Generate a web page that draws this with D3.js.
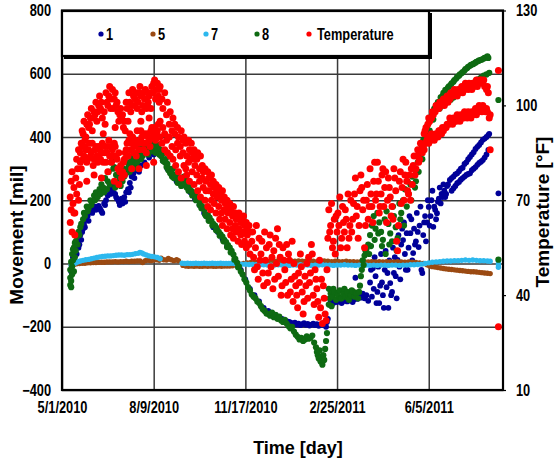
<!DOCTYPE html>
<html>
<head>
<meta charset="utf-8">
<script src="https://cdn.jsdelivr.net/npm/d3@7"></script>
<style>
  html, body { margin: 0; padding: 0; background: #fff; }
  svg text { font-family: "Liberation Sans", Arial, sans-serif; font-weight: bold; fill: #000; }
</style>
</head>
<body>
<svg id="chart" width="555" height="461"></svg>
<script>
// ---- axis definitions ----
const startDate = "2010-05-01";
const endDate = "2011-08-25";
const xTickLabels = ["5/1/2010", "8/9/2010", "11/17/2010", "2/25/2011", "6/5/2011"];
const movementTicks = [-400, -200, 0, 200, 400, 600, 800];
const temperatureTicks = [10, 40, 70, 100, 130];

// ---- legend ----
const seriesNames = ["1", "5", "7", "8", "Temperature"];
const seriesColors = ["#000099", "#9b4a12", "#2cb8ee", "#0e6a12", "#ff0000"];

// ---- readings: [days since 5/1/2010, value] ----
// sensor 1, movement in mil
const sensor1 = [
  [10,-25],[11,0],[12,20],[13,10],[14,40],[15,55],[16,30],[17,70],[18,50],[19,60],[20,90],[21,75],[22,100],[23,110],[24,125],[25,115],[26,140],[28,150],[29,135],[30,165],[32,170],[33,160],[34,175],[36,180],[37,170],[38,178],[40,182],[41,175],[42,170],[43,165],[44,160],[46,190],[47,185],[48,200],[50,215],[52,230],[53,220],[54,240],[55,245],[56,225],[58,220],[59,210],[60,205],[62,195],[63,185],[64,200],[65,205],[66,190],[68,210],[69,195],[70,225],[72,235],[73,225],[74,255],[75,240],[76,275],[78,285],[79,270],[80,295],[82,300],[84,290],[86,310],
  [90,320],[95,335],[100,345],[105,350],[110,325],[115,300],[120,280],[125,260],[130,250],[135,245],[140,225],[145,205],[150,185],[155,160],[160,140],[165,115],[170,100],[175,78],[180,55],[185,35],[190,5],[195,-20],[200,-50],[205,-80],[210,-100],[215,-120],[220,-140],[225,-150],[230,-160],[235,-170],[240,-175],[245,-182],
  [248,-185],[250,-188],[252,-190],[254,-187],[256,-193],[258,-190],[260,-195],[262,-192],[264,-189],[266,-194],[268,-191],[270,-196],[272,-193],[274,-190],[276,-195],[278,-192],[280,-197],[282,-194],[284,-190],[286,-195],[288,-200],[289,-185],[290,-175],
  [292,-130],[293,-118],[294,-120],[296,-125],[298,-118],[300,-122],[302,-112],[303,-115],[305,-125],[306,-120],[308,-108],[309,-112],[311,-120],[312,-118],[314,-105],[315,-110],[317,-122],[318,-115],[320,-105],[320,-45],[322,-112],[324,-100],[326,-108],[328,-95],[330,-110],[332,-100],[334,-118],
  [336,-60],[337,-20],[338,-105],[339,-15],[340,-80],[341,20],[342,-40],[343,-125],[344,-90],[345,-10],[346,-125],[347,-70],[348,30],[349,-60],[350,-100],[351,-140],[352,-20],[353,40],[354,-75],[355,-30],[356,-140],[357,10],[358,-62],[359,-100],[360,-90],[361,50],[362,-30],[363,20],[364,-40],[365,-110],[366,11],[367,90],[368,-10],[369,-50],[370,60],[371,110],[372,74],[373,130],[374,30],[375,-20],[376,96],[377,-20],[378,50],[379,150],[380,96],[381,140],[382,10],[383,33],[384,110],[385,60],[386,70],[387,160],[388,100],[389,52],[390,120],[391,180],[392,-20],[393,-30],[394,90],[395,130],[396,150],[397,70],[398,130],[399,200],[400,179],[401,120],[402,150],[403,200],[404,230],[405,116],[406,180],[407,170],[408,140],[409,159],[410,195],[411,205],[412,240],[413,190],[414,220],[415,210],[416,250],[417,230],[418,210],[419,220],[420,245],
  [421,250],[423,264],[425,270],[427,275],[429,282],[431,285],[433,292],[435,300],[437,303],[439,315],[441,320],[443,330],[445,337],[447,345],[449,352],[451,362],[453,369],[455,375],[457,383],[459,391],[461,395],[463,400],[465,406],[466,410],
  [425,230],[427,238],[429,245],[431,254],[433,258],[435,265],[437,270],[439,275],[441,280],[443,283],[445,285],[447,295],[449,300],[451,305],[453,312],[455,318],[457,322],[459,327],[461,335],[463,345],[465,359],
  [476,222]
];

// sensor 5, movement in mil
const sensor5 = [
  [10,-5],[13,-3],[16,-1],[19,0],[22,1],[25,1],[28,2],[31,2],[34,3],[37,3],[40,4],[43,4],[46,4],[49,5],[52,5],[55,5],[58,6],[61,5],[64,6],[67,6],[70,7],[73,6],[76,7],[79,7],[82,8],[85,8],[88,3],[91,9],[94,10],[97,9],[100,11],[103,12],[106,10],[108,17],[111,12],[114,11],[116,16],[119,12],[122,9],[125,12],[127,9],
  [132,-6],[135,-8],[138,-9],[141,-8],[144,-9],[147,-8],[150,-9],[153,-9],[156,-8],[159,-9],[162,-8],[165,-9],[168,-9],[171,-8],[174,-9],[177,-8],[180,-8],[183,-8],[186,-7],
  [190,-5],[194,-2],[198,0],[202,2],[206,3],[210,4],[214,5],[218,5],[222,6],[226,6],[230,7],[234,7],[238,6],[242,7],[246,8],[250,7],[254,7],[258,8],[262,7],[266,7],[270,8],[274,7],[278,6],[282,7],[286,8],[290,7],[294,6],[298,7],[302,6],[306,6],[310,7],[314,6],[318,6],[322,5],[326,6],[330,6],[334,5],[338,6],[342,5],[346,6],[350,5],[354,6],[358,5],[362,5],[366,6],[370,5],[374,4],[378,5],[382,4],[386,3],[390,2],[394,0],[398,-4],[401,-8],[404,-10],[407,-11],[410,-13],[413,-14],[416,-16],[419,-17],[422,-18],[425,-19],[428,-20],[431,-21],[434,-22],[437,-23],[440,-24],[443,-25],[446,-26],[449,-26],[452,-27],[455,-28],[458,-29],[461,-30],[464,-31],[467,-32]
];

// sensor 7, movement in mil
const sensor7 = [
  [10,-6],[12,-2],[14,1],[16,4],[18,6],[20,8],[23,10],[26,12],[29,13],[32,15],[35,17],[38,19],[41,21],[44,22],[47,23],[50,24],[53,24],[56,25],[59,26],[62,27],[65,27],[68,26],[71,28],[74,28],[77,29],[80,31],[83,32],[85,35],[87,33],[89,30],[92,27],[95,24],[98,22],[101,21],[104,19],[107,15],
  [131,1],[134,0],[137,1],[140,0],[143,0],[146,1],[149,0],[152,0],[155,1],[158,0],[161,0],[164,1],[167,0],[170,0],[173,1],[176,0],[179,0],[182,0],[185,1],[188,0],
  [192,-1],[196,-2],[200,-2],[204,-3],[208,-3],[212,-4],[216,-4],[220,-4],[224,-5],[228,-5],[232,-5],[236,-4],[240,-5],[244,-5],[248,-6],[252,-5],[256,-5],[260,-4],[264,-5],[268,-5],[272,-6],[276,-5],[280,-5],[284,-4],[288,-5],[292,-5],[296,-6],[300,-5],[304,-5],[308,-4],[312,-5],[316,-5],[320,-6],[324,-5],[328,-5],[332,-5],[336,-6],[340,-5],[344,-6],[348,-5],[352,-5],[356,-6],[360,-5],[364,-5],[368,-6],[372,-5],[376,-5],[380,-4],[384,-4],[388,-3],[392,-2],[396,0],[400,2],[404,4],[408,5],[412,6],[416,7],[420,8],[424,8],[428,9],[432,9],[436,10],[440,11],[444,10],[448,11],[452,10],[456,9],[460,9],[464,8],[467,7],
  [476,8],[476,-2],[476,-12]
];

// sensor 8, movement in mil
const sensor8 = [
  [9,-68],[9,-45],[9,-20],[10,5],[10,-75],[10,-55],[11,30],[11,-35],[11,-10],[12,10],[12,45],[13,50],[13,-25],[14,20],[14,65],[15,40],[15,70],[16,85],[17,60],[18,100],[19,90],[20,115],
  [21,125],[23,140],[24,160],[25,150],[27,180],[28,165],[29,175],[31,200],[32,185],[33,195],[35,215],[36,200],[37,225],[39,210],[41,235],[42,220],[43,250],[45,240],[46,225],[47,270],[49,235],[50,260],[51,290],[52,250],[53,320],[55,330],[56,300],[57,305],[59,280],[60,255],[61,250],[63,265],[64,245],[65,290],[67,300],[68,275],[69,295],[71,320],[72,300],[73,310],[75,335],[76,320],[77,340],[79,325],[80,310],[81,345],[83,350],[84,330],[85,340],[87,355],[88,340],[89,350],[91,365],[92,350],[93,360],[95,375],[96,355],[97,370],[99,385],[100,360],[101,380],[103,370],[104,355],[105,375],[107,360],
  [58,240],[62,275],[66,260],[70,285],[74,290],[78,300],[82,320],[85,370],[86,330],[90,380],[94,345],[95,390],[98,355],[102,350],[106,345],
  [108,340],[109,345],[110,325],[111,350],[112,320],[113,330],[114,305],[115,315],[116,295],[117,300],[118,285],[119,290],[120,275],[121,300],[122,270],[123,280],[125,275],[126,255],[127,265],[129,260],[130,245],[131,270],[133,275],[134,255],[135,265],[136,240],[137,250],[138,230],[139,240],[141,230],[142,215],[143,225],[145,215],[146,200],[147,210],[149,200],[150,185],[151,190],[152,175],[153,180],[155,170],[156,155],[157,150],[159,155],[160,135],[161,145],[163,135],[164,120],[165,125],[167,120],[168,105],[169,112],[171,100],[172,88],[173,92],[175,85],[176,70],[177,75],[179,68],[180,52],[181,58],[183,50],[184,35],[185,40],[187,28],[188,12],[189,15],[191,2],[192,-12],[193,-10],[195,-25],[197,-35],[199,-50],[201,-60],[203,-75],[205,-85],[207,-98],[209,-105],[211,-110],[213,-120],[215,-125],[217,-135],[219,-145],[221,-150],[223,-158],[225,-160],[227,-165],[229,-155],[231,-170],[233,-162],[235,-175],[237,-168],[239,-180],[241,-185],[243,-178],[245,-190],[247,-198],[249,-205],[251,-200],[253,-215],[255,-225],[257,-232],[259,-240],[261,-235],[263,-245],[265,-240],[267,-230],[269,-238],[271,-235],[273,-228],[275,-250],[277,-265],[278,-280],[279,-290],[280,-300],[281,-275],[282,-310],[283,-295],[284,-320],[285,-290],[286,-305],[287,-270],[288,-245],[289,-220],
  [291,-80],[291,-130],[292,-110],[293,-95],[294,-135],[295,-105],[296,-80],[297,-90],[299,-115],[300,-95],[301,-100],[303,-85],[304,-110],[305,-110],[307,-95],[308,-80],[309,-105],[311,-90],[312,-110],[313,-115],[315,-100],[316,-85],[317,-88],[319,-105],[320,-92],[321,-95],[323,-110],[324,-90],[325,-70],[326,-40],[327,-20],[328,10],[329,-5],[330,25],[331,40],[332,45],[334,60],[335,30],[336,90],[337,55],[338,120],[340,150],[341,75],[342,110],[344,160],[345,95],[346,130],[348,100],[349,55],[350,75],[352,140],[353,30],[354,165],[356,125],[357,60],[358,95],[360,70],[361,180],[362,150],[364,115],[365,40],[366,80],[368,190],[369,140],[370,160],[372,200],[373,120],[374,235],[376,180],[377,260],[378,220],[380,250],[381,200],[382,275],[384,300],[385,240],[386,260],[388,320],[389,290],[390,340],[392,365],[393,330],[394,390],[396,410],[397,380],[398,430],[400,445],[401,420],[402,460],[404,475],[405,455],[406,490],[408,500],
  [410,510],[412,505],[413,525],[415,530],[416,540],[418,548],[419,550],[421,556],[422,560],[424,565],[425,570],[427,575],[428,580],[430,585],[431,590],[433,594],[434,598],[436,602],[437,605],[439,610],[440,615],[442,618],[443,622],[445,625],[446,628],[448,630],[449,632],[451,635],[452,638],[454,640],[455,642],[457,644],[458,645],[460,648],[461,650],[463,652],[464,655],[465,650],
  [412,490],[415,500],[418,505],[421,512],[424,518],[427,525],[430,532],[433,538],[436,545],[439,552],[442,558],[445,565],[448,570],[451,576],[454,582],[457,588],[460,594],[463,598],[466,603],
  [476,517],[476,12]
];

// air temperature, degrees F
const temperature = [
  [9,63],[9,71],[10,67],[10,76],[11,60],[11,79],[12,69],[13,74],[13,66],[14,59],[14,66],[15,77],[16,72],[16,83],[17,80],[18,86],[18,70],[19,75],[20,82],
  [21,88],[23,91],[25,89],[27,94],[29,93],[31,96],[33,92],[35,98],[36,97],[38,95],[40,100],[42,99],[44,96],[47,94],[49,101],[51,103],[53,99],[55,105],[57,102],[59,100],[61,98],[63,97],[65,96],[67,93],[69,92],[71,99],[74,101],[76,100],[78,103],[80,102],[82,99],[84,104],[86,103],[88,100],[90,102],[92,99],[94,101],[96,104],[98,106],[100,107],[101,108],[103,105],[105,103],[106,105],
  [22,92],[24,95],[26,90],[28,97],[30,94],[32,99],[34,96],[37,101],[39,98],[41,103],[43,101],[46,98],[48,104],[50,100],[52,106],[54,102],[56,99],[58,104],[60,101],[62,95],[64,99],[66,97],[68,95],[70,101],[73,104],[75,98],[77,105],[79,100],[81,104],[83,101],[85,106],[87,98],[89,104],[91,105],[93,100],[95,103],[97,99],[99,104],[102,102],[104,107],[106,101],
  [20,85],[22,87],[24,84],[26,86],[28,83],[30,88],[32,85],[34,81],[36,86],[38,84],[40,87],[42,83],[44,88],[46,85],[48,82],[50,87],[52,84],[55,86],[57,88],[59,84],[61,80],[63,79],[65,77],[67,82],[69,85],[71,88],[73,89],[75,86],[77,90],[79,87],[81,84],[83,88],[85,89],[87,90],[89,86],[91,88],[93,91],[95,89],[97,92],[99,90],[101,93],[103,91],[105,94],
  [21,80],[23,83],[25,87],[27,82],[29,86],[31,84],[33,88],[35,83],[37,87],[39,82],[41,86],[43,85],[45,82],[47,87],[49,85],[51,89],[53,87],[54,82],[56,84],[58,87],[60,83],[62,85],[64,81],[66,79],[68,83],[70,86],[72,84],[74,91],[76,88],[78,85],[80,89],[82,92],[84,86],[86,92],[88,88],[90,91],[92,85],[94,90],[96,87],[98,93],[100,91],[102,89],[104,92],[106,90],
  [27,76],[35,78],[43,77],[50,79],[57,76],[62,75],[68,78],[76,80],[84,80],[92,81],[100,82],
  [45,91],[58,93],[72,95],[86,95],[95,96],
  [107,106],[107,95],[107,90],[109,102],[109,88],[110,99],[110,93],[112,104],[112,91],[112,86],[114,97],[114,89],[115,101],[115,85],[117,94],[117,90],[118,98],[118,84],[120,92],[120,87],[121,96],[121,83],[123,91],[123,94],[124,86],[124,81],[126,93],[126,88],[127,90],[127,79],[129,87],[129,84],[130,92],[130,77],[132,85],[132,89],[133,81],[133,90],[135,88],[135,80],[136,84],[136,78],[138,89],[138,82],[139,86],[139,76],[141,83],[141,88],[142,79],[142,85],[144,86],[144,75],[145,81],[145,84],[147,78],[147,83],[148,85],[148,73],[150,80],[150,76],[151,84],[151,71],[153,77],[153,81],[154,74],[154,79],[156,80],[156,70],[157,76],[157,73],[159,79],[159,68],[160,73],[160,77],[162,75],[162,67],[163,78],[163,70],[165,72],[165,76],[166,69],[166,74],[168,75],[168,66],[169,71],[169,73],[171,68],[171,74],[172,72],[172,64],[174,70],[174,66],[175,73],[175,62],[177,67],[177,71],[178,64],[178,69],[180,70],[180,61],[181,66],[181,68],[183,63],[183,69],[184,67],[184,59],[186,65],[186,61],[187,68],[187,58],[189,62],[189,66],[190,60],[190,64],[192,65],[192,57],[193,61],[193,66],[195,59],[195,63],[196,64],[196,56],[198,60],[198,65],[199,57],[199,62],[201,63],[201,55],[202,59],[202,61],[204,56],[204,62],[205,60],[205,53],
  [207,57],[209,52],[211,55],[213,49],[215,58],[217,53],[219,47],[221,60],[222,51],[224,44],[226,56],[228,49],[230,42],[231,54],[233,58],[235,61],[236,46],[238,52],[240,43],[241,55],[243,48],[245,56],[246,40],[248,51],[250,45],[252,38],[253,50],[255,43],[257,36],[258,47],[260,53],[262,41],[263,34],[265,46],[267,50],[268,39],[270,44],[272,56],[273,53],[275,37],[276,48],[278,42],[280,33],[281,51],[283,45],[284,31],[286,39],[287,34],[289,48],
  [208,60],[210,48],[212,62],[214,45],[216,51],[218,57],[220,43],[223,55],[225,47],[227,59],[229,52],[232,45],[234,50],[237,56],[239,40],[242,51],[244,44],[247,53],[249,41],[251,57],[254,46],[256,40],[259,44],[261,49],[264,38],[266,43],[269,52],[271,47],[274,40],[277,45],[279,38],[282,36],[285,43],[288,32],
  [290,58],[291,67],[293,62],[294,69],[295,55],[297,64],[298,53],[300,60],[301,66],[303,71],[305,58],[307,63],[309,67],[311,55],[312,72],[314,62],[316,60],[318,69],[320,77],[321,65],[323,58],[325,73],[327,74],[328,67],[330,55],[332,70],[334,64],[336,80],[338,68],[340,76],[341,82],
  [292,60],[296,57],[299,65],[302,62],[304,55],[306,68],[308,60],[310,64],[313,58],[315,70],[317,64],[319,72],[322,68],[324,62],[326,78],[329,70],[331,62],[333,75],[335,68],[337,72],[339,63],[342,70],[345,76],[348,72],[351,68],[353,79],[355,70],[357,74],[360,68],[363,77],[367,62],[369,79],[371,74],[373,70],[375,82],[377,73],[379,78],[382,75],[384,84],[386,80],[388,86],[390,83],[392,86],
  [343,72],[344,82],[346,66],[347,68],[349,78],[350,80],[352,74],[354,63],[356,77],[358,71],[359,65],[361,64],[362,80],[364,73],[365,57],[366,54],[368,76],[370,69],[372,83],[374,78],[376,76],[378,72],[380,70],[381,80],[383,81],[385,78],[387,84],[389,82],[391,88],[393,85],
  [395,91],[397,93],[399,94],[401,95],[403,96],[405,97],[407,98],[409,99],[411,99],[413,100],[415,101],[417,100],[419,102],[421,101],[423,102],[425,103],[427,103],[429,104],[431,103],[433,104],[435,105],[437,104],[439,105],[441,106],[443,105],[445,106],[447,105],[449,106],[451,107],[453,106],[455,107],[457,108],[459,107],[461,106],[463,105],[465,104],
  [396,92],[400,96],[404,98],[408,100],[412,101],[416,102],[420,103],[424,104],[428,105],[432,105],[436,106],[440,107],[444,107],[448,107],[452,108],[456,108],[460,108],[464,106],
  [394,87],[396,88],[398,89],[400,88],[402,89],[404,90],[406,89],[408,91],[410,90],[412,92],[414,91],[416,92],[418,93],[420,94],[422,94],[424,95],[426,94],[428,95],[430,95],[432,96],[434,95],[436,96],[438,96],[440,97],[442,96],[444,97],[446,96],[448,97],[450,98],[452,97],[454,98],[456,99],[458,98],[460,99],[462,98],[464,98],[466,96],[467,97],
  [395,86],[399,90],[403,91],[407,90],[411,92],[415,93],[419,93],[423,96],[427,96],[431,97],[435,97],[439,98],[443,98],[447,98],[451,99],[455,100],[459,100],[463,99],
  [476,111],[467,86],[476,30]
];

// ---- scales ----
const parseDay = d3.utcParse("%Y-%m-%d");
const parseTick = d3.utcParse("%m/%d/%Y");
const t0 = parseDay(startDate);

const plot = { left: 62, right: 503, top: 10.5, bottom: 390 };

const x = d3.scaleUtc()
  .domain([t0, parseDay(endDate)])
  .range([plot.left, plot.right]);
const yMove = d3.scaleLinear().domain([-400, 800]).range([plot.bottom, plot.top]);
const yTemp = d3.scaleLinear().domain([10, 130]).range([plot.bottom, plot.top]);
const dayX = d => x(d3.utcDay.offset(t0, d));

const svg = d3.select("#chart");
const W = plot.right - plot.left, H = plot.bottom - plot.top;

// condensed bold labels: squeeze each text horizontally
function condense(sel, factor) {
  sel.each(function () {
    const len = this.getComputedTextLength();
    d3.select(this).attr("textLength", len * factor).attr("lengthAdjust", "spacingAndGlyphs");
  });
}

// ---- grid + axes ----
const gridColor = "#3a3a3a";

const xAxis = svg.append("g")
  .attr("transform", `translate(0,${plot.bottom})`)
  .call(d3.axisBottom(x)
    .tickValues(xTickLabels.map(parseTick))
    .tickFormat(d3.utcFormat("%-m/%-d/%Y"))
    .tickSize(-H)
    .tickPadding(12));
xAxis.select(".domain").remove();
xAxis.selectAll("line").attr("stroke", gridColor).attr("stroke-width", 1.5);
xAxis.selectAll("text").style("font-size", "16px").call(condense, 0.8);

const yAxis = svg.append("g")
  .attr("transform", `translate(${plot.left},0)`)
  .call(d3.axisLeft(yMove)
    .tickValues(movementTicks)
    .tickSize(-W)
    .tickPadding(11));
yAxis.select(".domain").remove();
yAxis.selectAll("line").attr("stroke", gridColor).attr("stroke-width", 1.5);
yAxis.selectAll("text").style("font-size", "16px").call(condense, 0.8);

const yAxisR = svg.append("g")
  .attr("transform", `translate(${plot.right},0)`)
  .call(d3.axisRight(yTemp)
    .tickValues(temperatureTicks)
    .tickSize(3)
    .tickPadding(10));
yAxisR.select(".domain").remove();
yAxisR.selectAll("line").attr("stroke", "#000").attr("stroke-width", 1.2);
yAxisR.selectAll("text").style("font-size", "16px").call(condense, 0.8);

// ---- data points ----
const layers = [
  { data: sensor1, y: yMove, color: seriesColors[0], r: 2.9 },
  { data: sensor5, y: yMove, color: seriesColors[1], r: 2.7 },
  { data: sensor7, y: yMove, color: seriesColors[2], r: 2.7 },
  { data: sensor8, y: yMove, color: seriesColors[3], r: 3.1 },
  { data: temperature, y: yTemp, color: seriesColors[4], r: 3.5 }
];

const pts = svg.append("g");
layers.forEach(L => {
  pts.append("g")
    .selectAll("circle")
    .data(L.data)
    .join("circle")
      .attr("cx", d => dayX(d[0]))
      .attr("cy", d => L.y(d[1]))
      .attr("r", L.r)
      .attr("fill", L.color);
});

// ---- plot frame ----
svg.append("rect")
  .attr("x", plot.left).attr("y", plot.top)
  .attr("width", W).attr("height", H)
  .attr("fill", "none").attr("stroke", "#000").attr("stroke-width", 2.2);

// ---- legend ----
const lg = svg.append("g");
lg.append("rect").attr("x", 64).attr("y", 13).attr("width", 368).attr("height", 46).attr("fill", "#000");
lg.append("rect").attr("x", 62).attr("y", 11).attr("width", 367).attr("height", 45)
  .attr("fill", "#fff").attr("stroke", "#000").attr("stroke-width", 2.2);
const legendX = [101, 153, 206, 257, 309];
seriesNames.forEach((name, i) => {
  lg.append("circle").attr("cx", legendX[i]).attr("cy", 34).attr("r", 2.6).attr("fill", seriesColors[i]);
  lg.append("text").attr("x", legendX[i] + (i === 4 ? 8 : 5)).attr("y", 34).attr("dy", "0.36em")
    .style("font-size", "16px").text(name).call(condense, 0.8);
});

// ---- axis titles ----
svg.append("text")
  .attr("transform", "translate(23,235) rotate(-90)")
  .attr("text-anchor", "middle").style("font-size", "19px").text("Movement [mil]");
svg.append("text")
  .attr("transform", "translate(549,212) rotate(-90)")
  .attr("text-anchor", "middle").style("font-size", "19px").text("Temperature [°F]");
svg.append("text")
  .attr("x", 298).attr("y", 454)
  .attr("text-anchor", "middle").style("font-size", "18px").text("Time [day]");
</script>
</body>
</html>
